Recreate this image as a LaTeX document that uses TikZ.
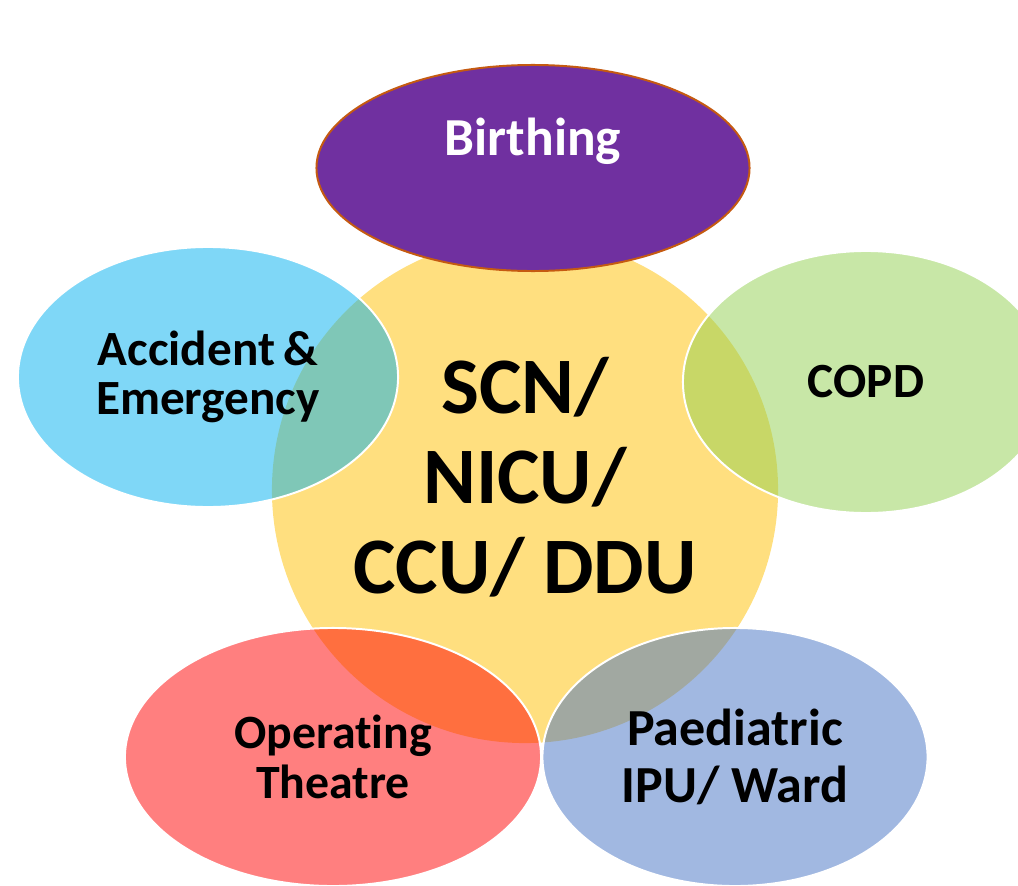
\documentclass[tikz,border=0pt]{standalone}
\usepackage{fontspec}
\setmainfont{Carlito}[Ligatures=NoCommon]
\usetikzlibrary{shapes.geometric}
\definecolor{hubyellow}{HTML}{FFC000}
\definecolor{birthpurple}{HTML}{7030A0}
\definecolor{birthrim}{HTML}{C55A11}
\definecolor{aeblue}{HTML}{00B0F0}
\definecolor{copdgreen}{HTML}{92D050}
\definecolor{theatrered}{HTML}{FF0000}
\definecolor{wardblue}{HTML}{4472C4}
\begin{document}
\begin{tikzpicture}
  [x=0.025cm,y=-0.025cm,every node/.style={ellipse,inner sep=0pt,align=center,font=\bfseries}]
  \tikzstyle{unit} = [fill opacity=.5,text opacity=1,draw=white,line width=1.4pt]
  \useasboundingbox (0,0) rectangle (1018,886);
  \clip (0,0) rectangle (1018,886);
  % centre unit
  \node (hub) at (525,490) [circle,fill=hubyellow,fill opacity=.5,text opacity=1,minimum size=12.65cm,
    label={[font=\bfseries\fontsize{57}{64}\selectfont,yshift=9pt]center:SCN/\\NICU/\\CCU/ DDU}] {};
  % units round it
  \node (ae) at (208,377) [unit,fill=aeblue,minimum width=9.5cm,minimum height=6.5cm,
    font=\bfseries\fontsize{35}{35}\selectfont] {Accident\,\&\\Emergency};
  \node (copd) at (866,382) [unit,fill=copdgreen,minimum width=9.15cm,minimum height=6.55cm,
    font=\bfseries\fontsize{35}{35}\selectfont] {COPD};
  \node (theatre) at (333,757) [unit,fill=theatrered,minimum width=10.4cm,minimum height=6.45cm,
    font=\bfseries\fontsize{34}{36}\selectfont] {Operating\\Theatre};
  \node (ward) at (735,757) [unit,fill=wardblue,minimum width=9.625cm,minimum height=6.45cm,
    font=\bfseries\fontsize{37}{40.5}\selectfont] {Paediatric\\IPU/ Ward};
  \node (birth) at (533,168) [fill=birthpurple,draw=birthrim,line width=1.4pt,text=white,
    minimum width=10.825cm,minimum height=5.15cm,text height=1cm,text depth=1.6cm,
    font=\bfseries\fontsize{38}{46}\selectfont] {Birthing};
\end{tikzpicture}
\end{document}
